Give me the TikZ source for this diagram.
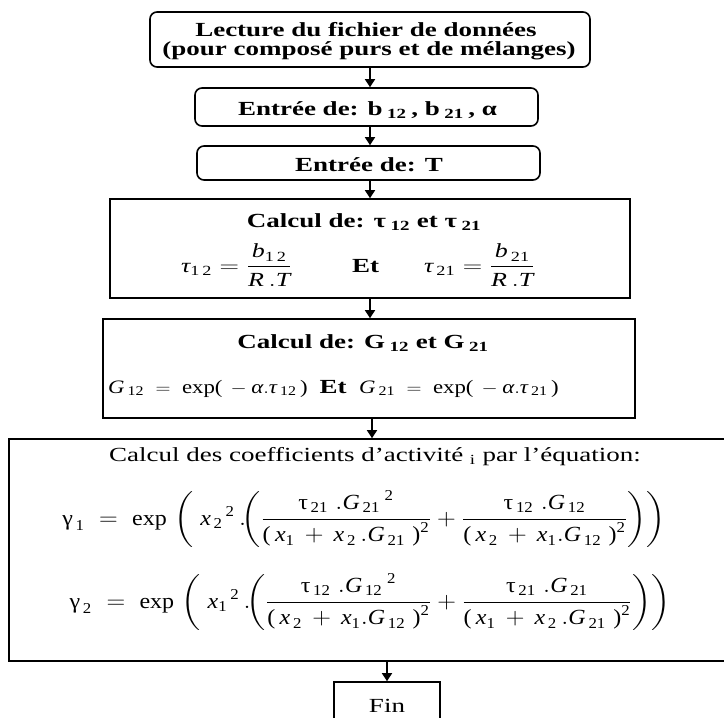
\documentclass[tikz,border=0pt]{standalone}
\usepackage{fontspec}
\usepackage{amsmath}
\usepackage{graphicx}
\setmainfont{Liberation Serif}
\usetikzlibrary{arrows.meta}
\newcommand\SX[1]{\scalebox{1.35}[1]{#1}}
\newcommand\MI[1]{\textit{#1}}
\newcommand\MR[1]{\textup{#1}}
\newcommand\HD{\fontsize{20}{22}\selectfont\bfseries}
\newcommand\FM{\fontsize{20}{22}\selectfont\normalfont}
\newcommand\GM{\fontsize{16}{18}\selectfont\normalfont}
\newcommand\NS{\rule[-3pt]{0pt}{3pt}}
\newcommand\DS{\rule{0pt}{14pt}}
\tikzset{
  box/.style={draw, line width=1.6pt, inner sep=0pt},
  rbox/.style={box, rounded corners=7pt},
  arr/.style={line width=1.6pt, -{Triangle[width=10pt,length=8pt]}},
  lbl/.style={inner sep=0pt, anchor=base},
}
\begin{document}
\begin{tikzpicture}[x=1pt,y=-1pt]
\useasboundingbox (0,0) rectangle (724,718);
% boxes
\node[rbox, minimum width=440pt, minimum height=55pt] (b1) at (370,39.5) {};
\node[rbox, minimum width=343pt, minimum height=38pt] (b2) at (366.5,107) {};
\node[rbox, minimum width=343pt, minimum height=34pt] (b3) at (368.5,163) {};
\node[box, minimum width=520pt, minimum height=99pt] (b4) at (370,248.5) {};
\node[box, minimum width=532pt, minimum height=99pt] (b5) at (369,368.5) {};
\node[box, minimum width=726pt, minimum height=222pt] (b6) at (372,550) {};
\node[box, minimum width=106pt, minimum height=40pt] (fin) at (387,702) {};
% texts
\node[lbl] (t1a) at (366,36) {\SX{\HD Lecture du fichier de données}};
\node[lbl] (t1b) at (369,55) {\SX{\HD (pour composé purs et de mélanges)}};
\node[lbl] (t2) at (367.5,115) {\SX{\HD Entrée de: b\,\textsubscript{12}\,, b\,\textsubscript{21}\,, α}};
\node[lbl] (t3) at (369,171) {\SX{\HD Entrée de: T}};
\node[lbl] (t4) at (364,227) {\SX{\HD Calcul de: τ\,\textsubscript{12} et τ\,\textsubscript{21}}};
\node[lbl] (f4a) at (236.5,272) {\scalebox{1.3}[1]{\FM $\MI{τ}_{\MR{1\,2}} = \dfrac{\MI{b}_{\MR{1\,2}}}{\MI{R}\,.\MI{T}}$}};
\node[lbl] (f4b) at (365.5,272) {\SX{\HD Et}};
\node[lbl] (f4c) at (479.5,272) {\scalebox{1.3}[1]{\FM $\MI{τ}_{\,\MR{21}} = \dfrac{\MI{b}_{\,\MR{21}}}{\MI{R}\,.\MI{T}}$}};
\node[lbl] (t5) at (363,348) {\SX{\HD Calcul de: G\,\textsubscript{12} et G\,\textsubscript{21}}};
\node[lbl, anchor=base west] (f5a) at (108,393) {\scalebox{1.2}[1]{\fontsize{19}{21}\selectfont $\MI{G}_{\,\MR{12}} \;=\; \MR{exp(}\, -\MI{α}.\MI{τ}_{\,\MR{12}}\,\MR{)}$}};
\node[lbl] (f5b) at (333,393) {\SX{\HD Et}};
\node[lbl, anchor=base west] (f5c) at (359,393) {\scalebox{1.2}[1]{\fontsize{19}{21}\selectfont $\MI{G}_{\,\MR{21}} \;=\; \MR{exp(}\, -\MI{α}.\MI{τ}_{\,\MR{21}}\,\MR{)}$}};
\node[lbl] (t6) at (375,461) {\SX{\fontsize{20}{22}\selectfont Calcul des coefficients d’activité \textsubscript{i} par l’équation:}};
\node[lbl] (g1) at (364,525) {\scalebox{1.5}[1.35]{\GM $\MR{γ}_{\,\MR{1}} \;=\; \MR{exp}\;\biggl(\;{\MI{x}_{\,\MR{2}}}^{\,\MR{2}}\,.\!\biggl(\dfrac{\MR{τ}_{\,\MR{21}}\;.{\MI{G}_{\,\MR{21}}}^{\;\MR{2}}\NS}{\DS\MR{(}\,\MI{x}_{\MR{1}}\,+\,\MI{x}_{\,\MR{2}}\,.\MI{G}_{\,\MR{21}}\;\MR{)}^{\MR{2}}} + \dfrac{\MR{τ}_{\,\MR{12}}\;.\MI{G}_{\,\MR{12}}\NS}{\DS\MR{(}\,\MI{x}_{\,\MR{2}}\,+\,\MI{x}_{\MR{1}}.\MI{G}_{\,\MR{12}}\;\MR{)}^{\MR{2}}}\biggr)\biggr)$}};
\node[lbl] (g2) at (370,608) {\scalebox{1.5}[1.35]{\GM $\MR{γ}_{\,\MR{2}} \;=\; \MR{exp}\;\biggl(\;{\MI{x}_{\MR{1}}}^{\,\MR{2}}\,.\!\biggl(\dfrac{\MR{τ}_{\,\MR{12}}\;.{\MI{G}_{\,\MR{12}}}^{\;\MR{2}}\NS}{\DS\MR{(}\,\MI{x}_{\,\MR{2}}\,+\,\MI{x}_{\MR{1}}.\MI{G}_{\,\MR{12}}\;\MR{)}^{\MR{2}}} + \dfrac{\MR{τ}_{\,\MR{21}}\;.\MI{G}_{\,\MR{21}}\NS}{\DS\MR{(}\,\MI{x}_{\MR{1}}\,+\,\MI{x}_{\,\MR{2}}\,.\MI{G}_{\,\MR{21}}\;\MR{)}^{\MR{2}}}\biggr)\biggr)$}};
\node[lbl] (tf) at (387,712) {\SX{\FM Fin}};
% arrows
\draw[arr] (b1.south) -- (b1.south |- b2.north);
\draw[arr] (b1.south |- b2.south) -- (b1.south |- b3.north);
\draw[arr] (b1.south |- b3.south) -- (b1.south |- b4.north);
\draw[arr] (b1.south |- b4.south) -- (b1.south |- b5.north);
\draw[arr] ([xshift=2pt]b1.south |- b5.south) -- ([xshift=2pt]b1.south |- b6.north);
\draw[arr] (fin.north |- b6.south) -- (fin.north);
\end{tikzpicture}
\end{document}
